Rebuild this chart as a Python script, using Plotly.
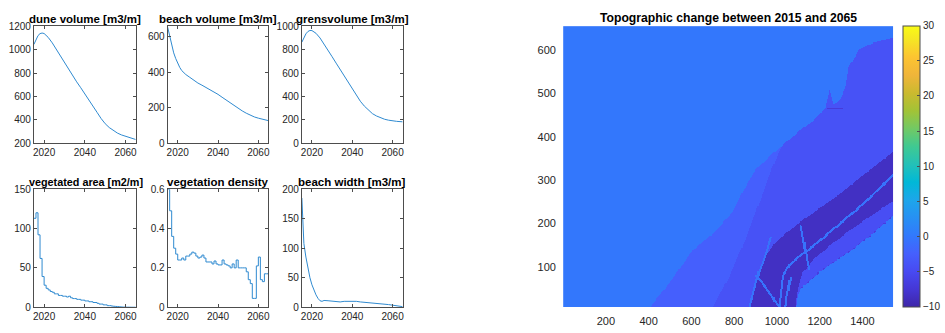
import numpy as np
import plotly.graph_objects as go

# ---------------- time series (2015-2065) ----------------
dune_years = [2015, 2016, 2017, 2018, 2019, 2020, 2021, 2022, 2024, 2026, 2028, 2030,
              2032, 2034, 2036, 2038, 2040, 2042, 2044, 2046, 2048, 2050, 2052, 2054,
              2056, 2058, 2060, 2062, 2065]
dune_volume = [1045, 1090, 1120, 1137, 1142, 1138, 1125, 1105, 1058, 1002, 945, 888,
               830, 775, 725, 675, 625, 575, 520, 465, 412, 368, 335, 308,
               288, 272, 259, 247, 233]

beach_years = [2015, 2016, 2017, 2018, 2019, 2020, 2021, 2022, 2023, 2024, 2026, 2028,
               2030, 2032, 2034, 2036, 2038, 2040, 2042, 2044, 2046, 2048, 2050, 2052,
               2054, 2056, 2058, 2060, 2062, 2065]
beach_volume = [655, 600, 550, 510, 478, 450, 428, 410, 398, 388, 372, 355,
                340, 328, 316, 303, 290, 276, 260, 244, 228, 212, 197, 183,
                170, 158, 149, 142, 137, 128]

grens_years = [2015, 2016, 2017, 2018, 2019, 2020, 2021, 2022, 2024, 2026, 2028, 2030,
               2032, 2034, 2036, 2038, 2040, 2042, 2044, 2046, 2048, 2050, 2052, 2054,
               2056, 2058, 2060, 2062, 2065]
grens_volume = [864, 905, 935, 955, 964, 963, 955, 940, 900, 850, 795, 740,
                685, 630, 572, 515, 460, 408, 360, 318, 282, 254, 234, 218,
                206, 198, 192, 188, 184]

step_years = list(range(2015, 2066))
vegetated_area = [113, 120, 92, 62, 39, 28, 24, 22, 20, 19, 17, 17, 15, 15, 14, 14,
                  13, 14, 12, 11, 11, 10, 10, 9, 9, 8, 8, 7, 7, 6, 6, 5, 4, 4, 3, 3,
                  2, 2, 1.5, 1.2, 1, 0.8, 0.5, 0.3, 0.2, 0.1, 0.1, 0.05, 0, 0, 0]
density_years = list(range(2015, 2066))
vegetation_density = [0.60, 0.49, 0.36, 0.30, 0.27, 0.24, 0.24, 0.25, 0.24, 0.26,
                      0.26, 0.27, 0.28, 0.275, 0.26, 0.25, 0.255, 0.265, 0.25, 0.23,
                      0.23, 0.23, 0.22, 0.235, 0.22, 0.215, 0.215, 0.24, 0.22, 0.215,
                      0.21, 0.20, 0.22, 0.20, 0.24, 0.20, 0.20, 0.20, 0.20, 0.18,
                      0.14, 0.12, 0.045, 0.045, 0.21, 0.255, 0.14, 0.13, 0.17, 0.17,
                      0.17]

width_years = [2015, 2015.5, 2016, 2017, 2018, 2019, 2020, 2021, 2022, 2023, 2024, 2025,
               2026, 2028, 2030, 2032, 2034, 2036, 2038, 2040, 2042, 2044, 2046, 2048,
               2050, 2052, 2054, 2056, 2058, 2060, 2062, 2065]
beach_width = [185, 130, 108, 85, 66, 50, 38, 28, 21, 15, 11, 10,
               11.5, 11, 10.5, 10, 9, 10, 10, 10.5, 10, 9, 8.5, 8,
               7.5, 7, 6, 5, 4.5, 3.5, 2.5, 1]

# ---------------- topographic change map ----------------
# zone edges (x, y): cells below each edge belong to the zone
edge_erosion = [(395, 0), (500, 65), (607, 139), (716, 183), (794, 228), (856, 287),
                (903, 325), (980, 361), (1105, 413), (1183, 442), (1228, 468),
                (1248, 508), (1268, 474), (1300, 490), (1322, 515), (1338, 561),
                (1385, 601), (1447, 616), (1545, 628)]
edge_deeper = [(690, 0), (770, 70), (850, 160), (920, 250), (980, 330), (1040, 400),
               (1100, 480), (1545, 700)]
edge_trough_top = [(865, 0), (900, 60), (940, 120), (1000, 160), (1100, 200),
                   (1200, 235), (1300, 270), (1400, 310), (1545, 365)]
edge_trough_bottom = [(1086, -10), (1090, 20), (1100, 50), (1120, 85), (1167, 115),
                      (1245, 148), (1338, 183), (1447, 220), (1545, 252)]
edge_shoal = [(1088, -10), (1092, 10), (1100, 35), (1113, 50), (1214, 94),
              (1338, 135), (1447, 176), (1545, 218)]
zone_change = [-2.5, -4.0, -8.5, -4.5, 0.0]

# narrow ridges inside the trough
ridge_main = [(1012, 0), (1020, 40), (1030, 80), (1060, 105), (1089, 118),
              (1183, 153), (1291, 198), (1416, 250), (1545, 312)]
ridge_branch = [(1040, 0), (1048, 35), (1065, 75)]
ridge_spur = [(868, 0), (890, 40), (918, 90), (950, 130), (973, 168)]
ridge_cross = [(905, 80), (960, 45), (1015, 5)]
ridge_cross2 = [(1113, 195), (1130, 150), (1150, 95)]
ridge_change = -0.5
scar_line = [(1237, 466), (1307, 466)]
scar_change = -7.0

grid_x = np.arange(2.5, 1545, 5.0)
grid_y = np.arange(8.75, 656, 2.5)
GX, GY = np.meshgrid(grid_x, grid_y)
PX_PER_X, PX_PER_Y = 0.2144, 0.45


def below(edge):
    xs, ys = zip(*edge)
    return GY < np.interp(GX, xs, ys)


def near(line, half_width_px):
    d = np.full(GX.shape, np.inf)
    for (x0, y0), (x1, y1) in zip(line[:-1], line[1:]):
        ax, ay = x0 * PX_PER_X, y0 * PX_PER_Y
        bx, by = x1 * PX_PER_X, y1 * PX_PER_Y
        px, py = GX * PX_PER_X, GY * PX_PER_Y
        vx, vy = bx - ax, by - ay
        t = np.clip(((px - ax) * vx + (py - ay) * vy) / (vx * vx + vy * vy), 0, 1)
        d = np.minimum(d, np.hypot(px - ax - t * vx, py - ay - t * vy))
    return d <= half_width_px


Z = np.zeros(GX.shape)
in_erosion = below(edge_erosion)
Z[in_erosion] = zone_change[0]
Z[in_erosion & below(edge_deeper)] = zone_change[1]
Z[below(edge_trough_top)] = zone_change[2]
Z[below(edge_trough_bottom)] = zone_change[3]
Z[below(edge_shoal)] = zone_change[4]
for ridge in (ridge_main, ridge_branch, ridge_spur, ridge_cross, ridge_cross2):
    Z[near(ridge, 1.1)] = ridge_change
Z[near(scar_line, 0.6)] = scar_change
# row of small pits along the shoal edge
sx, sy = zip(*edge_shoal)
for px in np.arange(1120, 1545, 24):
    Z[near([(px, np.interp(px, sx, sy)), (px + 4, np.interp(px + 4, sx, sy))], 0.7)] = -6.5

parula = [
    [0.000, "#3E26A8"], [0.063, "#4537D5"], [0.127, "#484AF2"], [0.190, "#4560FD"],
    [0.254, "#3279FC"], [0.317, "#2790F3"], [0.381, "#1DA6EA"], [0.444, "#01B8D7"],
    [0.508, "#24C1B7"], [0.571, "#3FC992"], [0.635, "#72C964"], [0.698, "#A2C336"],
    [0.762, "#CBBA2F"], [0.825, "#F0B53A"], [0.889, "#FCC431"], [0.952, "#F5E624"],
    [1.000, "#F9FB15"],
]

# ---------------- figure ----------------
W, H = 945, 333
FONT = "Liberation Sans"
TXT = "#262626"
LINE = "#2f8ad0"


def xdom(l, r):
    return [l / W, r / W]


def ydom(t, b):
    return [1 - b / H, 1 - t / H]


panels = [
    # (title, title size, x, y, yrange, yticks, shape, box)
    ("dune volume [m3/m]", 11.5, dune_years, dune_volume, [200, 1200],
     [200, 400, 600, 800, 1000, 1200], "linear", (33, 135, 21, 142.5)),
    ("beach volume [m3/m]", 11.5, beach_years, beach_volume, [0, 660],
     [0, 200, 400, 600], "linear", (167, 268, 21, 142.5)),
    ("grensvolume [m3/m]", 11.5, grens_years, grens_volume, [0, 1000],
     [0, 200, 400, 600, 800, 1000], "linear", (301.5, 402.5, 21, 142.5)),
    ("vegetated area [m2/m]", 10.8, step_years, vegetated_area, [0, 150],
     [0, 50, 100, 150], "hv", (33, 135, 190, 312.5)),
    ("vegetation density", 11.5, density_years, vegetation_density, [0, 0.6],
     [0, 0.2, 0.4, 0.6], "hv", (167, 268, 190, 312.5)),
    ("beach width [m3/m]", 11.5, width_years, beach_width, [0, 200],
     [0, 50, 100, 150, 200], "linear", (301.5, 402.5, 190, 312.5)),
]

fig = go.Figure()
layout = dict(
    width=W, height=H, autosize=False,
    margin=dict(l=0, r=0, t=0, b=0, pad=0),
    paper_bgcolor="white", plot_bgcolor="white",
    showlegend=False,
    font=dict(family=FONT, size=10, color=TXT),
    annotations=[],
)

axis_common = dict(
    showline=True, linecolor="#4d4d4d", linewidth=1, mirror="ticks",
    ticks="inside", ticklen=3, tickcolor="#4d4d4d", showgrid=False, zeroline=False,
    tickfont=dict(family=FONT, size=10, color=TXT),
)

for i, (title, tsize, xs, ys, yr, yt, shape, (l, r, t, b)) in enumerate(panels, start=1):
    sfx = "" if i == 1 else str(i)
    fig.add_trace(go.Scatter(x=xs, y=ys, mode="lines", line=dict(color=LINE, width=1, shape=shape),
                             xaxis="x" + sfx, yaxis="y" + sfx, hoverinfo="skip"))
    layout["xaxis" + sfx] = dict(axis_common, domain=xdom(l, r), range=[2015, 2065],
                                 tickvals=[2020, 2040, 2060], anchor="y" + sfx)
    layout["yaxis" + sfx] = dict(axis_common, domain=ydom(t, b), range=yr,
                                 tickvals=yt, anchor="x" + sfx)
    layout["annotations"].append(dict(
        text=title, x=(l + r) / 2 / W, y=1 - t / H, xref="paper", yref="paper",
        xanchor="center", yanchor="bottom", yshift=-1, xshift=1 if tsize < 11 else 0,
        showarrow=False, font=dict(family=FONT, size=tsize, color="black", weight="bold")))

# topographic change map
hl, hr, ht, hb = 563.3, 894.3, 20.7, 312.3
fig.add_trace(go.Heatmap(
    x=grid_x, y=grid_y, z=Z, colorscale=parula, zmin=-10, zmax=30,
    xaxis="x7", yaxis="y7", hoverinfo="skip",
    colorbar=dict(
        x=904 / W, xanchor="left", y=1 - (20.7 + 311.7) / 2 / H, yanchor="middle",
        len=(311.7 - 20.7) / H, lenmode="fraction", thickness=17, thicknessmode="pixels",
        xpad=0, ypad=0, outlinecolor="#4d4d4d", outlinewidth=1,
        ticks="inside", ticklen=3, tickcolor="#4d4d4d",
        tickvals=[-10, -5, 0, 5, 10, 15, 20, 25, 30],
        tickfont=dict(family=FONT, size=10, color=TXT),
    ),
))
hidden_ticks = dict(ticks="outside", ticklen=4, tickcolor="rgba(0,0,0,0)",
                    showline=False, showgrid=False, zeroline=False,
                    tickfont=dict(family=FONT, size=11, color=TXT))
layout["xaxis7"] = dict(hidden_ticks, domain=xdom(hl, hr), range=[0, 1545], anchor="y7",
                        tickvals=[200, 400, 600, 800, 1000, 1200, 1400])
layout["yaxis7"] = dict(hidden_ticks, domain=ydom(ht, hb), range=[7.5, 655.5], anchor="x7",
                        tickvals=[100, 200, 300, 400, 500, 600])
layout["annotations"].append(dict(
    text="Topographic change between 2015 and 2065", x=(hl + hr) / 2 / W, y=1 - ht / H,
    xref="paper", yref="paper", xanchor="center", yanchor="bottom", yshift=-1,
    showarrow=False, font=dict(family=FONT, size=12.2, color="black", weight="bold")))

fig.update_layout(**layout)
fig.write_html("out.html")
